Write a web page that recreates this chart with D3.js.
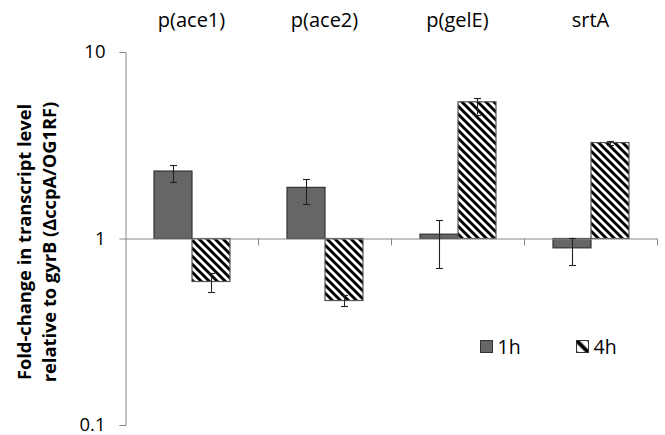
<!DOCTYPE html>
<html><head><meta charset="utf-8">
<script src="https://cdn.jsdelivr.net/npm/d3@7"></script>
<style>body{margin:0;background:#fff}svg{display:block}text{font-family:"Open Sans",sans-serif}</style>
</head><body><svg id="c" width="665" height="435"></svg>
<script>
const categories = ["p(ace1)", "p(ace2)", "p(gelE)", "srtA"];
const series = ["1h", "4h"];
const values1h = [2.30, 1.88, 1.055, 0.891];
const values4h = [0.588, 0.465, 5.41, 3.27];
const errHigh1h = [2.47, 2.08, 1.25, 1.01];
const errLow1h = [2.00, 1.53, 0.693, 0.719];
const errHigh4h = [0.65, 0.495, 5.65, 3.33];
const errLow4h = [0.518, 0.434, 4.62, 3.18];
const yTicks = [0.1, 1, 10];
const yTickLabels = ["0.1", "1", "10"];

const FONT = "'Open Sans',sans-serif";
const svg = d3.select("#c");
const defs = svg.append("defs");
const pat = defs.append("pattern").attr("id","hatch").attr("patternUnits","userSpaceOnUse")
  .attr("width",8).attr("height",8);
pat.append("rect").attr("width",8).attr("height",8).attr("fill","#fff");
pat.append("path").attr("d","M-2,-2 L10,10 M-2,6 L2,10 M6,-2 L10,2")
  .attr("stroke","#000").attr("stroke-width",2.9);
const pat2 = defs.append("pattern").attr("id","hatchL").attr("patternUnits","userSpaceOnUse")
  .attr("width",13).attr("height",13).attr("x",576.5).attr("y",340.5);
pat2.append("rect").attr("width",13).attr("height",13).attr("fill","#fff");
pat2.append("path").attr("d","M-2,-2 L15,15 M-2,11 L2,15 M11,-2 L15,2")
  .attr("stroke","#000").attr("stroke-width",4);

const x0 = d3.scaleBand().domain(categories).range([125,657]).paddingInner(0).paddingOuter(0);
const y = d3.scaleLog().domain([0.1,10]).range([425,52]);

// bars: 2 bars per group, gap of 1.5 bar widths between groups
const bw = x0.bandwidth()/3.5;
const x1 = d3.scaleBand().domain(series).range([0.75*bw, 2.75*bw]);
const barX = (i,s) => x0(categories[i]) + x1(series[s]);

const data = [];
categories.forEach((c,i)=>{
  data.push({i, s:0, v:values1h[i], hi:errHigh1h[i], lo:errLow1h[i]});
  data.push({i, s:1, v:values4h[i], hi:errHigh4h[i], lo:errLow4h[i]});
});

// y axis
const yAxis = d3.axisLeft(y).tickValues(yTicks).tickFormat((d,k)=>yTickLabels[k]).tickSize(6).tickPadding(14);
const gy = svg.append("g").attr("transform","translate(125.5,0)").call(yAxis);
gy.select(".domain").attr("stroke","#888").attr("d","M-6,425.5H0.5V52.5H-6");
gy.selectAll(".tick line").attr("stroke","#888");
gy.selectAll(".tick text").attr("font-size",18.5).attr("fill","#000").style("font-family",FONT);

// bars
svg.append("g").selectAll("rect").data(data).join("rect")
  .attr("x", d=>barX(d.i,d.s)+0.5)
  .attr("width", bw)
  .attr("y", d=>Math.min(y(d.v), y(1)))
  .attr("height", d=>Math.abs(y(d.v)-y(1)))
  .attr("fill", d=> d.s===0 ? "#666" : "url(#hatch)")
  .attr("stroke", d=> d.s===0 ? "#333" : "#555")
  .attr("stroke-width", 1.2);

// baseline axis at 1
const xb = svg.append("g");
xb.append("line").attr("x1",125).attr("x2",657).attr("y1",y(1)+0.5).attr("y2",y(1)+0.5).attr("stroke","#888").attr("stroke-width",1.2);
xb.selectAll("line.t").data(categories).join("line").attr("class","t")
  .attr("x1",c=>x0(c)+x0.bandwidth()+0.5).attr("x2",c=>x0(c)+x0.bandwidth()+0.5)
  .attr("y1",y(1)).attr("y2",y(1)+7).attr("stroke","#888");

// error bars
const eg = svg.append("g").attr("stroke","#222").attr("stroke-width",1.1);
data.forEach(d=>{
  const cx = Math.round(barX(d.i,d.s)+bw/2)+0.5;
  eg.append("line").attr("x1",cx).attr("x2",cx).attr("y1",y(d.hi)).attr("y2",y(d.lo));
  eg.append("line").attr("x1",cx-3.5).attr("x2",cx+3.5).attr("y1",Math.round(y(d.hi))+0.5).attr("y2",Math.round(y(d.hi))+0.5);
  eg.append("line").attr("x1",cx-3.5).attr("x2",cx+3.5).attr("y1",Math.round(y(d.lo))+0.5).attr("y2",Math.round(y(d.lo))+0.5);
});

// category labels
svg.append("g").selectAll("text").data(categories).join("text")
  .attr("x", c=>x0(c)+x0.bandwidth()/2).attr("y",27)
  .attr("text-anchor","middle").attr("font-size",20).text(c=>c);

// axis title
const tt = svg.append("text").attr("transform","translate(0,242) rotate(-90)")
  .attr("text-anchor","middle").attr("font-weight","bold").attr("font-size",18.3);
tt.append("tspan").attr("x",0).attr("y",31).text("Fold-change in transcript level");
tt.append("tspan").attr("x",0).attr("y",56).text("relative to gyrB (\u0394ccpA/OG1RF)");

// legend
const lg = svg.append("g");
const lx = [480.5, 576.5];
series.forEach((s,k)=>{
  lg.append("rect").attr("x",lx[k]).attr("y",340.5).attr("width",12).attr("height",12)
    .attr("fill", k===0 ? "#666" : "url(#hatchL)").attr("stroke","#333");
  lg.append("text").attr("x",lx[k]+17).attr("y",354).attr("font-size",19.5).text(s);
});
</script></body></html>
